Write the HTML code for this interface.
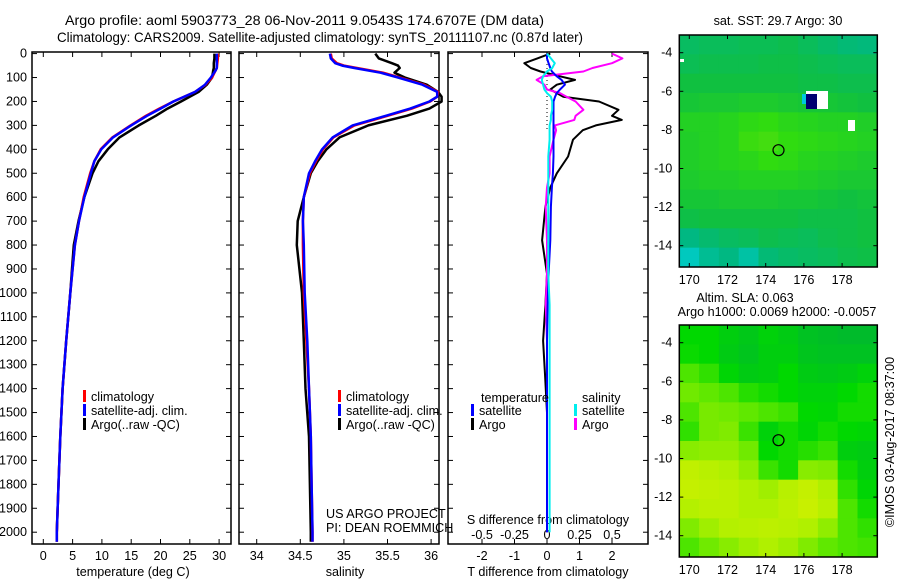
<!DOCTYPE html>
<html><head><meta charset="utf-8"><style>
html,body{margin:0;padding:0;background:#fff;}
svg{display:block;font-family:"Liberation Sans",sans-serif;}
</style></head><body>
<svg id="chart" width="900" height="580" xmlns="http://www.w3.org/2000/svg">
<text x="65" y="25" font-size="14" textLength="479" lengthAdjust="spacingAndGlyphs">Argo profile: aoml 5903773_28 06-Nov-2011 9.0543S 174.6707E (DM data)</text>
<text x="57" y="42" font-size="14" textLength="526" lengthAdjust="spacingAndGlyphs">Climatology: CARS2009. Satellite-adjusted climatology: synTS_20111107.nc (0.87d later)</text>
<g id="g"></g>
</svg>
<script>
// ---- profile data ----
const tDepths = [0,20,40,60,70,100,130,160,200,230,260,300,350,400,450,500,600,700,800,900,1000,1200,1400,1600,1800,2000,2040];
const tClim = [29.8,29.8,29.7,29.6,29.4,28.8,27.7,25.9,22.2,19.8,17.5,14.9,11.8,9.8,8.7,8.0,6.9,6.1,5.4,5.0,4.6,3.9,3.3,2.9,2.6,2.3,2.3];
const tSat = [29.6,29.6,29.6,29.6,29.4,28.6,27.6,25.9,22.2,20.0,17.7,15.0,11.9,9.9,8.7,8.1,7.0,6.1,5.4,5.0,4.6,3.9,3.3,2.9,2.6,2.3,2.3];
const tArgo = [29.2,29.2,29.1,29.1,29.0,28.8,27.9,26.5,23.5,21.2,19.2,16.3,13.0,11.0,9.4,8.4,7.0,6.0,5.2,4.9,4.6,3.9,3.3,2.9,2.6,2.3,2.3];
const sDepths = [0,20,40,50,60,80,100,130,160,180,200,230,260,300,350,400,450,500,600,700,800,1000,1200,1400,1600,1800,2000,2040];
const sClim = [34.85,34.86,34.92,35.0,35.15,35.45,35.64,35.92,36.08,36.07,35.99,35.78,35.5,35.12,34.88,34.76,34.68,34.61,34.54,34.53,34.53,34.54,34.57,34.6,34.62,34.63,34.64,34.64];
const sSat = [34.84,34.85,34.9,34.98,35.12,35.42,35.62,35.9,36.07,36.07,35.98,35.76,35.48,35.1,34.87,34.75,34.67,34.6,34.54,34.53,34.54,34.55,34.58,34.6,34.62,34.63,34.64,34.64];
const sArgo = [35.36,35.4,35.55,35.62,35.64,35.58,35.7,35.95,36.08,36.12,36.12,35.98,35.72,35.28,34.95,34.8,34.7,34.62,34.54,34.47,34.46,34.52,34.54,34.56,34.6,34.61,34.62,34.62];
const dDepths = [0,20,40,60,75,95,110,130,150,165,180,200,235,260,277,300,320,360,430,500,560,640,780,920,1050,1200,1340,1500,1800,2000];
const dTArgo = [0.1,-0.3,-0.7,-0.5,-0.2,0.4,0.86,0.3,0.1,0.3,0.5,1.6,2.2,2.0,2.3,1.5,1.1,0.8,0.65,0.3,0.1,-0.05,-0.15,0,-0.05,-0.12,-0.06,0,0,0];
const dTSat = [0,0,0.05,0.1,0.15,0.3,0.45,0.55,0.4,0.3,0.25,0.2,0.2,0.2,0.2,0.2,0.2,0.2,0.2,0.18,0.15,0.12,0.1,0.05,0.02,0,0,0,0,0];
const dSArgo = [0.5,0.58,0.5,0.35,0.28,-0.03,-0.08,-0.02,0,0.1,0.15,0.22,0.28,0.22,0.21,0.06,0.07,0.05,0.02,0.02,0,-0.01,0,0,-0.01,0,0,0,0,0];
const dSSat = [0,0.03,0.06,0.04,0,-0.03,-0.04,-0.03,-0.02,0,0.03,0.04,0.04,0.03,0.03,0.02,0.02,0.02,0.01,0.01,0.01,0.01,0.01,0.01,0.02,0.02,0.02,0.02,0.02,0.02];
const depthTicks = [0,100,200,300,400,500,600,700,800,900,1000,1100,1200,1300,1400,1500,1600,1700,1800,1900,2000];
const tempTicks = [0,5,10,15,20,25,30];
const salTicks = [34,34.5,35,35.5,36];
const dTTicks = [-2,-1,0,1,2];
const dSTicks = [-0.5,-0.25,0,0.25,0.5];
const dSTickLabels = ['-0.5','-0.25','0','0.25','0.5'];
// ---- map data (rows from north to south, cols west to east) ----
const sstGrid = [
[1.5,1.6,1.6,1.7,1.7,1.8,1.6,1.4,1.2,1.1],
[1.7,1.8,1.8,1.8,1.9,1.9,1.8,1.7,1.6,1.6],
[2.0,2.0,2.0,2.0,2.0,2.0,1.9,1.9,1.8,1.8],
[2.2,2.3,2.3,2.4,2.4,2.3,2.2,2.2,2.1,2.0],
[2.6,2.6,2.7,2.9,3.0,2.8,2.7,2.6,2.6,2.5],
[2.5,2.6,2.7,3.1,3.2,3.0,2.9,2.8,2.7,2.6],
[2.5,2.6,2.7,2.8,3.0,2.9,2.7,2.6,2.5,2.4],
[2.4,2.5,2.5,2.6,2.6,2.6,2.5,2.4,2.3,2.3],
[2.2,2.2,2.3,2.3,2.3,2.2,2.2,2.1,2.0,2.1],
[1.9,2.0,2.0,2.0,2.0,2.0,1.9,1.9,1.9,2.0],
[1.0,1.3,1.5,1.6,1.8,1.7,1.6,1.8,1.9,2.0],
[0.3,0.8,1.0,0.6,1.2,1.4,1.5,1.6,1.8,1.9]];
const slaGrid = [
[1.0,1.0,0.7,0.5,0.8,0.6,0.3,0.2,0.1,0.1],
[1.1,1.0,0.6,0.4,0.7,0.7,0.4,0.3,0.3,0.3],
[1.8,1.5,0.9,0.6,0.7,1.0,0.6,0.5,0.6,0.8],
[2.2,2.0,1.8,1.4,1.2,1.0,0.8,0.8,1.0,1.2],
[1.8,2.3,2.2,2.0,1.8,1.6,1.0,0.9,1.2,1.2],
[1.5,2.3,2.4,1.6,0.8,1.2,0.9,1.2,1.0,0.9],
[2.5,2.6,2.6,2.2,1.0,1.2,1.4,1.6,0.7,0.6],
[3.4,3.2,3.0,2.6,1.6,1.2,2.5,2.4,1.2,0.7],
[3.5,3.4,3.3,3.0,2.8,3.2,3.5,3.0,1.5,0.9],
[3.1,3.3,3.3,3.0,3.0,3.3,3.6,3.2,1.8,1.2],
[2.4,2.8,3.1,3.2,3.3,3.2,3.0,2.6,1.8,1.5],
[1.8,2.2,2.5,2.8,3.0,2.8,2.4,2.0,1.8,1.7]];
const lonTicks = [170,172,174,176,178];
const latTicks = [-4,-6,-8,-10,-12,-14];
const argoLon = 174.67, argoLat = -9.05;

const FS = 12.6;
const NS='http://www.w3.org/2000/svg';
const G=document.getElementById('g');
function mk(tag,attrs,parent){const e=document.createElementNS(NS,tag);for(const k in attrs)e.setAttribute(k,attrs[k]);(parent||G).appendChild(e);return e;}
function txt(s,x,y,size,anchor,parent){const e=mk('text',{x:x,y:y,'font-size':size,'text-anchor':anchor||'start'},parent);e.textContent=s;return e;}

const yD = d => 53.6 + d*0.2393;
const xT = t => 43.3 + t*5.86;
const xS = s => 256.7 + (s-34)*87.2;
const xDT = v => 547 + v*32.5;
const xDS = v => 547 + v*130;
const TOP=52, BOT=544;

function box(x0,x1,name){
  const r=mk('rect',{x:x0,y:TOP,width:x1-x0,height:BOT-TOP,fill:'none',stroke:'#000','stroke-width':1.5});
  
  
  depthTicks.forEach(d=>{
    mk('line',{x1:x0,x2:x0+5,y1:yD(d),y2:yD(d),stroke:'#000'});
    mk('line',{x1:x1,x2:x1-5,y1:yD(d),y2:yD(d),stroke:'#000'});
  });
}
function xticks(vals,fx,labels,ly,name){
  vals.forEach((v,i)=>{
    const x=fx(v);
    mk('line',{x1:x,x2:x,y1:TOP,y2:TOP+5,stroke:'#000'});
    mk('line',{x1:x,x2:x,y1:BOT,y2:BOT-5,stroke:'#000'});
    const t=txt(labels[i],x,ly,FS,'middle');
    
    
  });
}
function line(vals,depths,fx,color,name,w){
  let pts=[];
  vals.forEach((v,i)=>{if(v!==null)pts.push(fx(v).toFixed(1)+','+yD(depths[i]).toFixed(1));});
  const p=mk('polyline',{points:pts.join(' '),fill:'none',stroke:color,'stroke-width':w||2.5,'stroke-linejoin':'round'});
  
  
}
function legend(x,y,color,label,name){
  mk('rect',{x:x,y:y-8,width:3,height:12,fill:color});
  const t=txt(label,x+8,y+3,FS);
  
  
}

// Panel 1 temperature
box(32,231,'temperature-plot-frame');
depthTicks.forEach(d=>{const t=txt(String(d),27,yD(d)+4,FS,'end');
  
  });
xticks(tempTicks,xT,tempTicks.map(String),560,'temperature-tick-label');
let a=txt('temperature (deg C)',133,576,FS,'middle');


line(tArgo,tDepths,xT,'#000','temperature-argo-line');
line(tClim,tDepths,xT,'#f00','temperature-climatology-line');
line(tSat,tDepths,xT,'#00f','temperature-satellite-line');
legend(83,398,'#f00','climatology','legend-climatology');
legend(83,412,'#00f','satellite-adj. clim.','legend-satellite');
legend(83,426,'#000','Argo(..raw -QC)','legend-argo');

// Panel 2 salinity
box(239,439,'salinity-plot-frame');
xticks(salTicks,xS,['34','34.5','35','35.5','36'],560,'salinity-tick-label');
a=txt('salinity',345,576,FS,'middle');


line(sArgo,sDepths,xS,'#000','salinity-argo-line');
line(sClim,sDepths,xS,'#f00','salinity-climatology-line');
line(sSat,sDepths,xS,'#00f','salinity-satellite-line');
legend(338,398,'#f00','climatology','legend-climatology-2');
legend(338,412,'#00f','satellite-adj. clim.','legend-satellite-2');
legend(338,426,'#000','Argo(..raw -QC)','legend-argo-2');
a=txt('US ARGO PROJECT',326,518,FS);


a=txt('PI: DEAN ROEMMICH',326,532,FS);



// Panel 3 differences
box(448,648,'difference-plot-frame');
dTTicks.forEach(v=>{const x=xDT(v);
  mk('line',{x1:x,x2:x,y1:BOT,y2:BOT-5,stroke:'#000'});
  const t=txt(String(v),x,560,FS,'middle');
  
  });
dSTicks.forEach((v,i)=>{const x=xDS(v);
  mk('line',{x1:x,x2:x,y1:TOP,y2:TOP+5,stroke:'#000'});
  const t=txt(dSTickLabels[i],x,539,FS,'middle');
  
  });
a=txt('S difference from climatology',548,524,FS,'middle');


a=txt('T difference from climatology',548,576,FS,'middle');


mk('line',{x1:xDT(0),x2:xDT(0),y1:TOP,y2:yD(320),stroke:'#000','stroke-dasharray':'1,3'});
line(dTArgo,dDepths,xDT,'#000','t-diff-argo-line',2);
line(dSArgo,dDepths,xDS,'#f0f','s-diff-argo-line',2);
line(dTSat,dDepths,xDT,'#00f','t-diff-satellite-line',2);
line(dSSat,dDepths,xDS,'#0ee','s-diff-satellite-line',2);
a=txt('temperature',481,402,FS);


a=txt('salinity',582,402,FS);


legend(471,412,'#00f','satellite','legend-t-satellite');
legend(471,426,'#000','Argo','legend-t-argo');
legend(574,412,'#0ee','satellite','legend-s-satellite');
legend(574,426,'#f0f','Argo','legend-s-argo');

// ---- maps ----
function ramp(stops,v){
  const i=Math.max(0,Math.min(stops.length-2,Math.floor(v)));const f=Math.max(0,Math.min(1,v-i));
  const a=stops[i],b=stops[i+1];
  return 'rgb('+a.map((c,k)=>Math.round(c+(b[k]-c)*f)).join(',')+')';
}
const sstStops=[[0,208,216],[0,184,130],[16,192,64],[48,220,16],[144,224,16]];
const slaStops=[[0,184,48],[0,216,0],[96,232,0],[176,240,0],[216,240,0]];
function map(top,grid,stops,name,fn){
  const L=679.3,R=877.3,B=top+232;
  const xl=lon=>689.3+(lon-170)*19.1;
  const yl=lat=>top+17.7+(-4-lat)*19.3;
  const g=mk('g',{});
  
  
  const nr=grid.length,nc=grid[0].length,cw=(R-L)/nc,ch=(B-top)/nr;
  grid.forEach((row,r)=>row.forEach((v,c)=>{
    const cell=mk('rect',{x:(L+c*cw).toFixed(2),y:(top+r*ch).toFixed(2),width:(cw+0.5).toFixed(2),height:(ch+0.5).toFixed(2),fill:ramp(stops,v)},g);
    
    
  }));
  if(fn)fn(g,xl,yl);
  const c=mk('circle',{cx:xl(argoLon),cy:yl(argoLat),r:5.5,fill:'none',stroke:'#000','stroke-width':1.2},g);
  
  
  mk('rect',{x:L,y:top,width:R-L,height:B-top,fill:'none',stroke:'#000','stroke-width':1.5},g);
  lonTicks.forEach(lon=>{const x=xl(lon);
    mk('line',{x1:x,x2:x,y1:top,y2:top+4,stroke:'#000'},g);
    mk('line',{x1:x,x2:x,y1:B,y2:B-4,stroke:'#000'},g);
    const t=txt(String(lon),x,B+17,FS,'middle',g);
    
    });
  latTicks.forEach(lat=>{const y=yl(lat);
    mk('line',{x1:L,x2:L+4,y1:y,y2:y,stroke:'#000'},g);
    mk('line',{x1:R,x2:R-4,y1:y,y2:y,stroke:'#000'},g);
    const t=txt(String(lat),L-7,y+4,FS,'end',g);
    
    });
}
map(35,sstGrid,sstStops,'sst-map',(g)=>{
  mk('rect',{x:806,y:91,width:22,height:18,fill:'#fff'},g);
  mk('rect',{x:806,y:94,width:11,height:15,fill:'#000070'},g);
  mk('rect',{x:802,y:94,width:4,height:10,fill:'#00c8e0'},g);
  mk('rect',{x:848,y:120,width:7,height:11,fill:'#fff'},g);
  mk('rect',{x:680,y:59,width:4,height:3,fill:'#fff'},g);
});
map(325,slaGrid,slaStops,'sla-map');
a=txt('sat. SST: 29.7 Argo: 30',778,25,FS,'middle');


a=txt('Altim. SLA: 0.063',745,302,FS,'middle');


a=txt('Argo h1000: 0.0069 h2000: -0.0057',777,316,FS,'middle');


a=txt('©IMOS 03-Aug-2017 08:37:00',0,0,FS,'middle');
a.setAttribute('transform','translate(894,442) rotate(-90)');


</script>
</body></html>
